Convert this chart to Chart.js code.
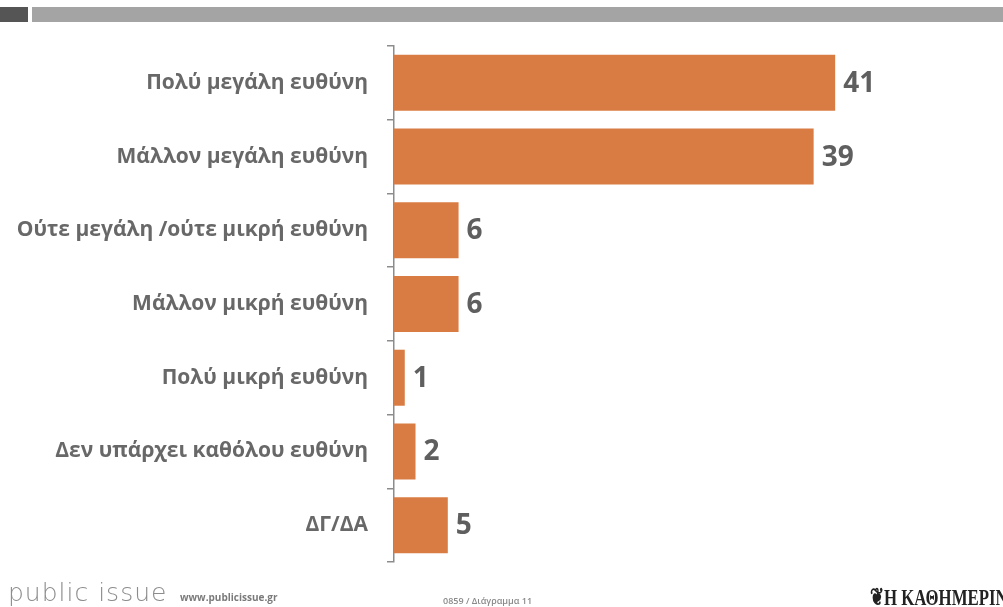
<!DOCTYPE html>
<html>
<head>
<meta charset="utf-8">
<script src="https://cdn.jsdelivr.net/npm/chart.js@4/dist/chart.umd.min.js"></script>
<style>
  html, body { margin: 0; padding: 0; background: #ffffff; }
  #wrap { position: relative; width: 1003px; height: 607px; overflow: hidden; background: #fff; }
  #chart { position: absolute; left: 0; top: 0; }
  .bar-dark { position: absolute; left: 0; top: 7px; width: 28px; height: 15px; background: #555555; }
  .bar-light { position: absolute; left: 32px; top: 7px; width: 980px; height: 15px; background: #a4a4a4; }
  .brand { position: absolute; left: 8px; top: 578px; font-family: "DejaVu Sans", sans-serif; font-weight: 200; font-size: 25px; color: #8c8c8c; letter-spacing: 1px; }
  .site { position: absolute; left: 180px; top: 590px; font-family: "Open Sans", sans-serif; font-weight: 700; font-size: 10px; color: #7a7a7a; }
  .code { position: absolute; left: 443px; top: 594px; font-family: "Open Sans", sans-serif; font-weight: 600; font-size: 9px; color: #8a8a8a; }
  .paper { position: absolute; left: 870px; top: 583px; font-family: "Liberation Serif", serif; font-weight: 700; font-size: 24px; color: #222; transform: scaleX(0.7); transform-origin: left top; white-space: nowrap; }
</style>
</head>
<body>
<div id="wrap">
  <div class="bar-dark"></div>
  <div class="bar-light"></div>
  <canvas id="chart" width="1003" height="607"></canvas>
  <div class="brand">public issue</div>
  <div class="site">www.publicissue.gr</div>
  <div class="code">0859 / Διάγραμμα 11</div>
  <div class="paper">&#10086;Η ΚΑΘΗΜΕΡΙΝΗ</div>
</div>
<script>
const categories = [
  'Πολύ μεγάλη ευθύνη',
  'Μάλλον μεγάλη ευθύνη',
  'Ούτε μεγάλη /ούτε μικρή ευθύνη',
  'Μάλλον μικρή ευθύνη',
  'Πολύ μικρή ευθύνη',
  'Δεν υπάρχει καθόλου ευθύνη',
  'ΔΓ/ΔΑ'
];
const values = [41, 39, 6, 6, 1, 2, 5];
const barColor = '#d97c44';
const textColor = '#686868';

// Bold value labels just past the end of each bar
const valueLabels = {
  id: 'valueLabels',
  afterDatasetsDraw(chart) {
    const ctx = chart.ctx;
    const meta = chart.getDatasetMeta(0);
    ctx.save();
    ctx.font = 'bold 28px "Open Sans", sans-serif';
    ctx.fillStyle = '#5f5f5f';
    ctx.textAlign = 'left';
    ctx.textBaseline = 'middle';
    meta.data.forEach((bar, i) => {
      ctx.fillText(String(values[i]), bar.x + 8, bar.y + 1);
    });
    ctx.restore();
  }
};

new Chart(document.getElementById('chart'), {
  type: 'bar',
  data: {
    labels: categories,
    datasets: [{
      data: values,
      backgroundColor: barColor,
      borderWidth: 0,
      barPercentage: 0.76,
      categoryPercentage: 1.0
    }]
  },
  options: {
    indexAxis: 'y',
    responsive: false,
    animation: false,
    devicePixelRatio: 1,
    layout: { padding: { top: 46, bottom: 45, left: 0, right: 71 } },
    plugins: { legend: { display: false }, tooltip: { enabled: false } },
    scales: {
      x: { display: false, min: 0, max: 50 },
      y: {
        afterFit(scale) { scale.width = 394; },
        border: { display: true, color: '#8c8c8c', width: 1.5 },
        grid: { display: true, drawOnChartArea: false, drawTicks: true, tickLength: 7, color: '#8c8c8c', lineWidth: 1.5 },
        ticks: {
          color: textColor,
          padding: 19,
          font: { family: '"Open Sans", sans-serif', size: 21, weight: '700' }
        }
      }
    }
  },
  plugins: [valueLabels]
});
</script>
</body>
</html>
